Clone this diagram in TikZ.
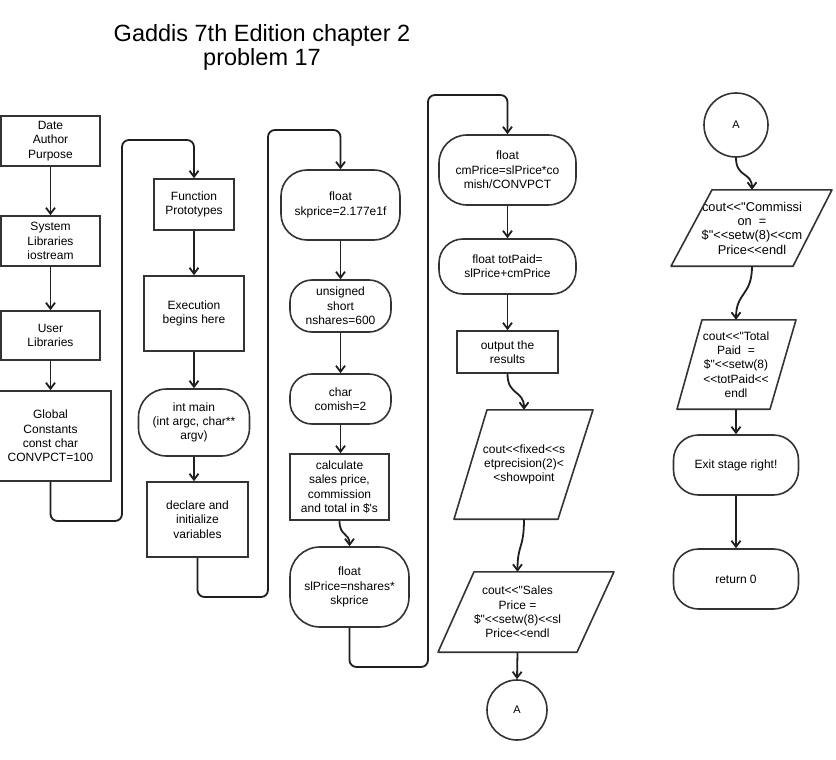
\documentclass[tikz,border=0pt]{standalone}
\usepackage{fontspec}
\setmainfont{Liberation Sans}
\usetikzlibrary{arrows.meta,calc}
\begin{document}
\begin{tikzpicture}[x=1pt,y=-1pt,
  nf/.style={font=\fontsize{12}{14.3}\selectfont},
  box/.style={draw=black!80, line width=1.6pt, align=center, inner sep=1pt, nf},
  proc/.style={box, rectangle},
  term/.style={box, rectangle, rounded corners=#1},
  conn/.style={draw=black!88, line width=1.8pt, -{Straight Barb[length=6pt,width=9pt]}},
  longc/.style={conn, rounded corners=7pt},
  para/.style={align=center, inner sep=0pt, nf},
  shp/.style={draw=black!80, line width=1.6pt, line join=round},
  conc/.style={box, circle, inner sep=0pt, font=\fontsize{11}{13}\selectfont}
]
\useasboundingbox (0,0) rectangle (836,760);
\fill[white] (0,0) rectangle (836,760);

% title
\node[anchor=base, font=\fontsize{23.5}{26}\selectfont] (title1) at (262,42) {Gaddis 7th Edition chapter 2};
\node[anchor=base, font=\fontsize{23.5}{26}\selectfont] (title2) at (262,66) {problem 17};

% column 1
\node[proc, minimum width=99pt, minimum height=50pt] (date) at (50.5,141) {Date\\Author\\Purpose};
\node[proc, minimum width=99pt, minimum height=50pt] (sys) at (50.5,241) {System\\Libraries\\iostream};
\node[proc, minimum width=99pt, minimum height=49pt] (user) at (50.5,335.5) {User\\Libraries};
\node[proc, minimum width=121pt, minimum height=90pt] (glob) at (50.5,436) {Global\\Constants\\const char\\CONVPCT=100};

% column 2
\node[proc, minimum width=80pt, minimum height=51pt] (func) at (194,204.5) {Function\\Prototypes};
\node[proc, minimum width=100pt, minimum height=75pt] (exec) at (194,313.5) {Execution\\begins here};
\node[term=28pt, minimum width=111pt, minimum height=67pt] (main) at (194,422.5) {int main\\(int argc, char**\\argv)};
\node[proc, minimum width=101pt, minimum height=75pt] (decl) at (197.5,519.5) {declare and\\initialize\\variables};

% column 3
\node[term=26pt, minimum width=119pt, minimum height=70pt] (skp) at (340.5,205) {float\\skprice=2.177e1f};
\node[term=22pt, minimum width=101pt, minimum height=52pt] (nsh) at (340.5,306) {unsigned\\short\\nshares=600};
\node[term=22pt, minimum width=101pt, minimum height=50pt] (com) at (340.5,399) {char\\comish=2};
\node[proc, minimum width=99pt, minimum height=66pt] (calc) at (339.5,487) {calculate\\sales price,\\commission\\and total in \$\textquotesingle s};
\node[term=30pt, minimum width=119pt, minimum height=80pt] (slp) at (349.5,587) {float\\slPrice=nshares*\\skprice};

% column 4
\node[term=28pt, minimum width=137pt, minimum height=70pt] (cmp) at (507.5,170) {float\\cmPrice=slPrice*co\\mish/CONVPCT};
\node[term=24pt, minimum width=137pt, minimum height=55pt] (tot) at (507.5,266.5) {float totPaid=\\slPrice+cmPrice};
\node[proc, minimum width=101pt, minimum height=42pt] (outr) at (507.5,352) {output the\\results};
\node[para, minimum height=109pt] (p1) at (524,464.5) {cout<{}<fixed<{}<s\\etprecision(2)<\\<showpoint};
\draw[shp] ($(p1.north)+(-37,0)$) -- ($(p1.north)+(69,0)$) -- ($(p1.south)+(34,0)$) -- ($(p1.south)+(-70,0)$) -- cycle;
\node[para, minimum height=80pt] (p2) at (517.5,612) {cout<{}<\textquotedbl Sales\\Price =\\\$\textquotedbl<{}<setw(8)<{}<sl\\Price<{}<endl};
\draw[shp] ($(p2.north)+(-43.5,0)$) -- ($(p2.north)+(96.5,0)$) -- ($(p2.south)+(59.5,0)$) -- ($(p2.south)+(-79.5,0)$) -- cycle;
\node[conc, minimum size=60pt] (a1) at (517,710) {A};

% column 5
\node[conc, minimum size=64pt] (a2) at (736,125) {A};
\node[para, minimum height=76pt, font=\fontsize{12.8}{14.3}\selectfont] (p3) at (752,228) {cout<{}<\textquotedbl Commissi\\on~~=\\\$\textquotedbl<{}<setw(8)<{}<cm\\Price<{}<endl};
\draw[shp] ($(p3.north)+(-40,0)$) -- ($(p3.north)+(80,0)$) -- ($(p3.south)+(41,0)$) -- ($(p3.south)+(-81,0)$) -- cycle;
\node[para, minimum height=89pt] (p4) at (736,364.5) {cout<{}<\textquotedbl Total\\Paid~~=\\\$\textquotedbl<{}<setw(8)\\<{}<totPaid<{}<\\endl};
\draw[shp] ($(p4.north)+(-34,0)$) -- ($(p4.north)+(60,0)$) -- ($(p4.south)+(34,0)$) -- ($(p4.south)+(-59,0)$) -- cycle;
\node[term=25pt, minimum width=125pt, minimum height=60pt] (exit) at (736,465) {Exit stage right!};
\node[term=25pt, minimum width=125pt, minimum height=60pt] (ret) at (736,579) {return 0};

% straight connectors
\draw[conn] (date.south) -- (sys.north);
\draw[conn] (sys.south) -- (user.north);
\draw[conn] (user.south) -- (glob.north);
\draw[conn] (func.south) -- (exec.north);
\draw[conn] (exec.south) -- (main.north);
\draw[conn] (main.south) -- (main.south |- decl.north);
\draw[conn] (skp.south) -- (nsh.north);
\draw[conn] (nsh.south) -- (com.north);
\draw[conn] (com.south) -- (com.south |- calc.north);
\draw[conn] (calc.south) .. controls +(0,16) and +(0,-14) .. (slp.north);
\draw[conn] (cmp.south) -- (tot.north);
\draw[conn] (tot.south) -- (outr.north);
\draw[conn] (outr.south) .. controls +(0,22) and +(0,-20) .. (p1.north);
\draw[conn] (p1.south) .. controls +(0,30) and +(0,-28) .. (p2.north);
\draw[conn] (p2.south) -- (a1.north);
\draw[conn] (a2.south) .. controls +(0,20) and +(0,-18) .. (p3.north);
\draw[conn] (p3.south) .. controls +(0,30) and +(0,-28) .. (p4.north);
\draw[conn] (p4.south) -- (exit.north);
\draw[conn] (exit.south) -- (ret.north);

% long connectors
\coordinate (c1a) at (122,521);
\coordinate (c1b) at (122,140);
\draw[longc] (glob.south) |- (c1a) -- (c1b) -| (func.north);
\coordinate (c2a) at (268,597);
\coordinate (c2b) at (268,130);
\draw[longc] (decl.south) |- (c2a) -- (c2b) -| (skp.north);
\coordinate (c3a) at (428,667);
\coordinate (c3b) at (428,95);
\draw[longc] (slp.south) |- (c3a) -- (c3b) -| (cmp.north);
\end{tikzpicture}
\end{document}
